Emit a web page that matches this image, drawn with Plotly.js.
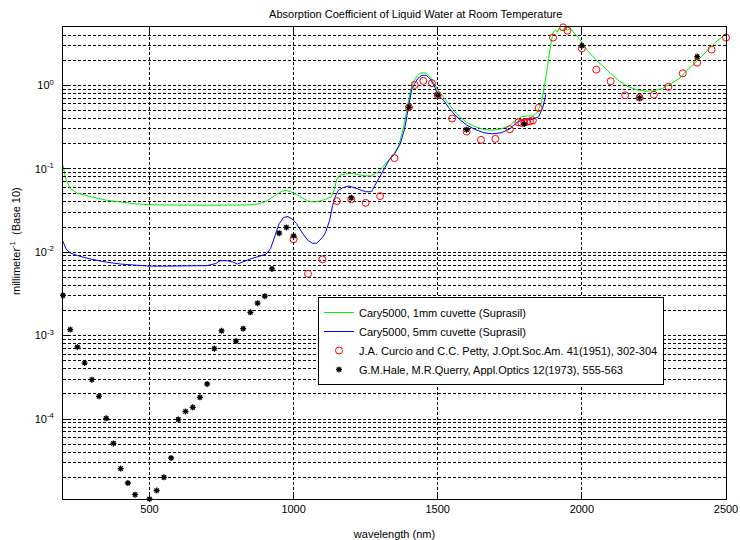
<!DOCTYPE html>
<html>
<head>
<meta charset="utf-8">
<script src="https://cdn.plot.ly/plotly-3.0.1.min.js"></script>
<style>html,body{margin:0;padding:0;background:#fff;}#chart{width:740px;height:540px;}</style>
</head>
<body>
<div id="chart"></div>
<script>
// Cary5000, 1mm cuvette
const green_wl = [200,210,225,250,300,350,400,450,500,600,700,800,850,880,900,920,940,960,975,990,1010,1030,1050,1070,1090,1110,1130,1140,1150,1160,1180,1200,1220,1250,1270,1290,1310,1330,1350,1365,1380,1395,1405,1415,1430,1445,1460,1475,1490,1500,1520,1540,1560,1580,1600,1630,1660,1690,1720,1750,1770,1790,1810,1830,1845,1860,1870,1880,1890,1900,1910,1915,1920,1930,1940,1950,1960,1970,1980,2000,2020,2050,2080,2100,2130,2160,2190,2220,2250,2280,2310,2340,2370,2400,2430,2460,2490,2500];
const green_val = [0.110,0.075,0.058,0.051,0.046,0.042,0.040,0.038,0.037,0.0365,0.0365,0.0367,0.037,0.038,0.040,0.044,0.049,0.054,0.055,0.053,0.049,0.045,0.041,0.040,0.041,0.043,0.046,0.055,0.075,0.083,0.087,0.088,0.086,0.082,0.082,0.090,0.105,0.128,0.155,0.19,0.30,0.55,0.85,1.10,1.32,1.42,1.40,1.25,1.00,0.88,0.72,0.58,0.48,0.41,0.36,0.32,0.295,0.290,0.300,0.33,0.38,0.42,0.43,0.43,0.47,0.62,0.95,1.6,2.8,4.3,4.6,4.3,4.8,4.5,4.9,4.6,4.8,4.4,4.0,3.3,2.6,2.0,1.62,1.38,1.12,0.97,0.88,0.85,0.86,0.92,1.05,1.22,1.58,1.95,2.5,3.2,3.9,4.2];
// Cary5000, 5mm cuvette
const blue_wl = [200,210,225,250,300,350,400,450,500,550,600,650,700,730,745,770,790,805,820,850,880,905,920,935,950,965,980,995,1010,1030,1050,1065,1080,1100,1110,1125,1135,1145,1155,1170,1190,1200,1220,1250,1270,1290,1310,1330,1350,1370,1385,1400,1410,1420,1430,1445,1460,1475,1490,1500,1520,1540,1560,1580,1600,1630,1660,1690,1720,1750,1770,1790,1810,1830,1850,1865,1875];
const blue_val = [0.0135,0.011,0.0098,0.0091,0.0082,0.0076,0.0072,0.0070,0.0068,0.0068,0.0068,0.0069,0.0069,0.0073,0.0079,0.0079,0.0076,0.0072,0.0076,0.0083,0.0089,0.0095,0.0110,0.0155,0.022,0.026,0.0268,0.025,0.022,0.017,0.0138,0.0128,0.0128,0.015,0.017,0.024,0.036,0.047,0.055,0.059,0.062,0.061,0.058,0.053,0.053,0.070,0.095,0.125,0.15,0.20,0.30,0.60,0.90,1.05,1.20,1.32,1.32,1.18,0.95,0.78,0.66,0.53,0.44,0.38,0.335,0.295,0.27,0.262,0.27,0.30,0.35,0.38,0.385,0.39,0.42,0.55,0.78];
// J.A. Curcio and C.C. Petty (1951)
const curcio_wl = [1000,1050,1100,1150,1200,1250,1300,1350,1400,1420,1450,1480,1500,1550,1600,1650,1700,1750,1780,1790,1800,1810,1820,1830,1850,1900,1935,1950,2000,2050,2100,2150,2200,2250,2300,2350,2400,2450,2500];
const curcio_val = [0.0143,0.0055,0.0082,0.041,0.043,0.039,0.047,0.134,0.545,1.01,1.13,1.06,0.76,0.40,0.279,0.222,0.228,0.297,0.36,0.355,0.36,0.365,0.37,0.38,0.536,3.73,4.95,4.52,2.77,1.54,1.12,0.76,0.71,0.77,0.96,1.39,1.87,2.68,3.73];
// G.M. Hale, M.R. Querry (1973)
const hale_wl = [200,225,250,275,300,325,350,375,400,425,450,475,500,525,550,575,600,625,650,675,700,725,750,800,825,850,875,900,925,950,975,1000,1200,1400,1500,1600,1800,2000,2200,2400];
const hale_val = [0.00303,0.00118,0.00073,0.000469,0.000296,0.000187,0.000102,5.1e-5,2.55e-5,1.71e-5,1.24e-5,1.08e-5,1.1e-5,1.39e-5,2.0e-5,3.41e-5,9.9e-5,0.000123,0.000138,0.000182,0.000263,0.000697,0.00114,0.00086,0.00121,0.0019,0.00245,0.00297,0.0063,0.0169,0.0198,0.0157,0.0448,0.545,0.76,0.294,0.344,2.99,0.71,2.21];

const xTicks = [500,1000,1500,2000,2500];
const yLabelDecades = [-4,-3,-2,-1,0];
const yMinorDecades = [-5,-4,-3,-2,-1,0];

const yTickVals = yLabelDecades.map(d => Math.pow(10, d));
const yTickText = yLabelDecades.map(d => '10<sup>' + d + '</sup>');
const yMinorVals = [];
yMinorDecades.forEach(d => {
  for (let m = 2; m <= 9; m++) {
    const v = m * Math.pow(10, d);
    if (v <= 5.0001) yMinorVals.push(v);
  }
});

const FONT = 'Liberation Sans, Arial, sans-serif';
const GRID = {gridcolor: '#000', gridwidth: 1, griddash: '3px,2px'};

const traces = [
  {x: green_wl, y: green_val, type: 'scatter', mode: 'lines', name: 'Cary5000, 1mm cuvette (Suprasil)',
   line: {color: '#00f000', width: 1}},
  {x: blue_wl, y: blue_val, type: 'scatter', mode: 'lines', name: 'Cary5000, 5mm cuvette (Suprasil)',
   line: {color: '#0000ff', width: 1}},
  {x: curcio_wl, y: curcio_val, type: 'scatter', mode: 'markers', name: 'J.A. Curcio and C.C. Petty, J.Opt.Soc.Am. 41(1951), 302-304',
   marker: {symbol: 'circle-open', size: 7, color: '#ff0000', line: {color: '#ff0000', width: 1}}, cliponaxis: false},
  {x: hale_wl, y: hale_val, type: 'scatter', mode: 'markers', name: 'G.M.Hale, M.R.Querry, Appl.Optics 12(1973), 555-563',
   marker: {symbol: 'asterisk-open', size: 5, color: '#000000', line: {color: '#000000', width: 1.3}}, cliponaxis: false}
];

const layout = {
  width: 740, height: 540,
  margin: {l: 63, r: 14, t: 27, b: 41, pad: 0},
  paper_bgcolor: '#ffffff', plot_bgcolor: '#ffffff',
  font: {family: FONT, size: 11, color: '#000'},
  showlegend: true,
  title: {text: 'Absorption Coefficient of Liquid Water at Room Temperature',
          font: {family: FONT, size: 11, color: '#000'},
          x: 0.532, xref: 'paper', xanchor: 'center', y: 1 - 14/540, yref: 'container', yanchor: 'middle'},
  xaxis: Object.assign({
    range: [200, 2500], type: 'linear',
    tickmode: 'array', tickvals: xTicks, ticktext: xTicks.map(String),
    ticks: 'inside', ticklen: 5, tickcolor: '#000',
    showline: true, linecolor: '#000', linewidth: 1, mirror: 'ticks',
    showgrid: true, zeroline: false,
    tickfont: {family: FONT, size: 11, color: '#000'},
    title: {text: 'wavelength (nm)', font: {family: FONT, size: 11, color: '#000'}, standoff: 19},
    automargin: false
  }, GRID),
  yaxis: Object.assign({
    type: 'log', range: [Math.log10(1.1e-5), Math.log10(5)],
    tickmode: 'array', tickvals: yTickVals, ticktext: yTickText,
    ticks: 'inside', ticklen: 5, tickcolor: '#000',
    showline: true, linecolor: '#000', linewidth: 1, mirror: 'ticks',
    showgrid: true, zeroline: false,
    minor: Object.assign({tickmode: 'array', tickvals: yMinorVals, ticks: 'inside', ticklen: 3, tickcolor: '#000', showgrid: true}, GRID),
    ticklabelstandoff: 6,
    tickfont: {family: FONT, size: 11, color: '#000'},
    automargin: false
  }, GRID),
  legend: {
    x: (318 - 63) / 663, y: (499 - 297) / 472, xanchor: 'left', yanchor: 'top',
    bgcolor: '#ffffff', bordercolor: '#000', borderwidth: 1,
    font: {family: FONT, size: 11, color: '#000'},
    tracegroupgap: 0, itemwidth: 30
  },
  annotations: [{
    text: 'millimeter<sup>-1</sup>  (Base 10)', textangle: -90,
    xref: 'paper', yref: 'paper', x: (15 - 63) / 663, y: (499 - 241) / 472,
    xanchor: 'center', yanchor: 'middle', showarrow: false,
    font: {family: FONT, size: 11, color: '#000'}
  }]
};

Plotly.newPlot('chart', traces, layout, {displayModeBar: false, staticPlot: true});
</script>
</body>
</html>
